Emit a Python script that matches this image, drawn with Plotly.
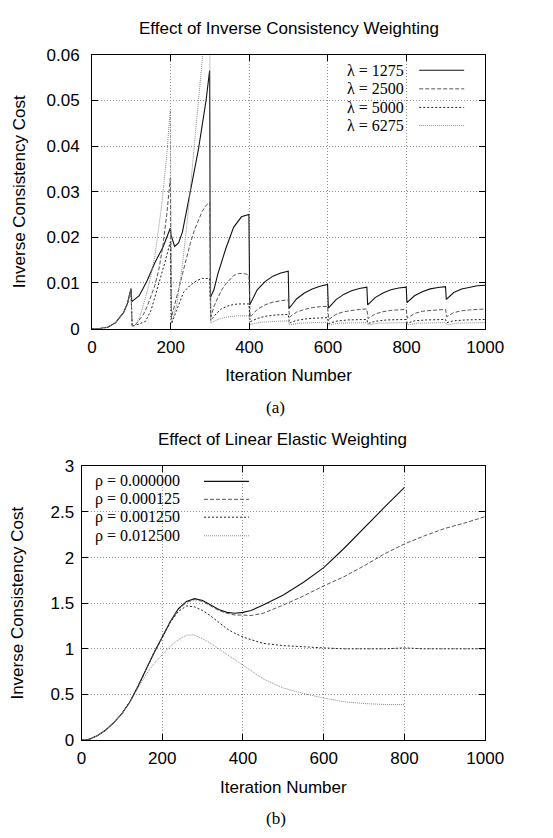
import plotly.graph_objects as go

# ---------------- Data: (a) Effect of Inverse Consistency Weighting ----------------
lam_labels = ["λ = 1275", "λ = 2500", "λ = 5000", "λ = 6275"]

iter_1275 = [0, 20, 40, 60, 80, 90, 99,
             101, 120, 140, 160, 180, 199,
             201, 210, 220, 230, 240, 250, 260, 270, 280, 290, 299,
             301, 310, 320, 340, 360, 380, 399,
             401, 420, 440, 460, 480, 499,
             501, 520, 540, 560, 580, 599,
             601, 620, 640, 660, 680, 699,
             701, 720, 740, 760, 780, 799,
             801, 820, 840, 860, 880, 899,
             901, 920, 940, 960, 980, 1000]
cost_1275 = [0, 0, 0.0003, 0.0013, 0.0035, 0.0055, 0.0088,
             0.0059, 0.0072, 0.0105, 0.0145, 0.0178, 0.022,
             0.0205, 0.018, 0.0188, 0.0212, 0.0255, 0.030, 0.0345, 0.039, 0.0445, 0.050, 0.0566,
             0.0068, 0.0085, 0.012, 0.0175, 0.0222, 0.0245, 0.025,
             0.0052, 0.0085, 0.0103, 0.0115, 0.0122, 0.0126,
             0.0044, 0.0065, 0.0078, 0.0087, 0.0093, 0.0097,
             0.0045, 0.0063, 0.0075, 0.0083, 0.0088, 0.0091,
             0.0052, 0.0068, 0.0078, 0.0085, 0.0089, 0.0091,
             0.0057, 0.0072, 0.0081, 0.0087, 0.0090, 0.0092,
             0.0064, 0.0079, 0.0087, 0.0091, 0.0094, 0.0095]

iter_2500 = [0, 20, 40, 60, 80, 90, 99,
             102, 110, 120, 130, 140, 150, 160, 170, 180, 190, 199,
             202, 210, 220, 230, 240, 250, 260, 270, 280, 290, 299,
             302, 310, 320, 330, 340, 350, 360, 370, 380, 390, 399,
             402, 420, 440, 460, 480, 499,
             502, 520, 540, 560, 580, 599,
             602, 620, 640, 660, 680, 699,
             702, 720, 740, 760, 780, 799,
             802, 820, 840, 860, 880, 899,
             902, 920, 940, 960, 980, 1000]
cost_2500 = [0, 0, 0.0003, 0.0013, 0.0035, 0.0055, 0.0086,
             0.0006, 0.0008, 0.0018, 0.003, 0.0048, 0.007, 0.0095, 0.013, 0.018, 0.025, 0.033,
             0.0025, 0.005, 0.0085, 0.012, 0.0155, 0.0187, 0.0215, 0.0238, 0.0257, 0.027, 0.0277,
             0.0025, 0.0048, 0.0068, 0.0085, 0.0098, 0.0108, 0.0116, 0.012, 0.0121, 0.012, 0.0117,
             0.0025, 0.0042, 0.0052, 0.0058, 0.0061, 0.0063,
             0.0025, 0.0036, 0.0042, 0.0046, 0.0048, 0.0049,
             0.0020, 0.0031, 0.0037, 0.0040, 0.0042, 0.0043,
             0.0022, 0.0032, 0.0037, 0.0040, 0.0041, 0.0042,
             0.0023, 0.0033, 0.0038, 0.0040, 0.0041, 0.0042,
             0.0026, 0.0035, 0.0039, 0.0041, 0.0042, 0.0043]

iter_5000 = [0, 20, 40, 60, 80, 90, 99,
             102, 120, 136, 150, 161, 175, 185, 199,
             202, 215, 233, 250, 266, 280, 299,
             302, 315, 330, 350, 370, 399,
             402, 420, 440, 470, 499,
             502, 520, 550, 599,
             602, 620, 650, 699,
             702, 720, 750, 799,
             802, 820, 850, 899,
             902, 920, 950, 1000]
cost_5000 = [0, 0, 0.0003, 0.0013, 0.0035, 0.0055, 0.0086,
             0.0005, 0.001, 0.0016, 0.004, 0.0073, 0.011, 0.0144, 0.019,
             0.001, 0.004, 0.008, 0.0095, 0.0105, 0.011, 0.011,
             0.0018, 0.0032, 0.0044, 0.0051, 0.0054, 0.0054,
             0.0015, 0.0022, 0.0027, 0.0030, 0.0031,
             0.0012, 0.0018, 0.0022, 0.0024,
             0.0011, 0.0016, 0.0019, 0.0020,
             0.0011, 0.0016, 0.0019, 0.0020,
             0.0012, 0.0017, 0.0019, 0.0020,
             0.0013, 0.0017, 0.0019, 0.0020]

iter_6275 = [0, 20, 40, 60, 80, 90, 99,
             102, 110, 120, 130, 144, 160, 177, 190, 199,
             202, 215, 230, 245, 260, 275, 290, 299,
             302, 320, 340, 370, 399,
             402, 430, 470, 499,
             502, 530, 599,
             602, 630, 699,
             702, 730, 799,
             802, 830, 899,
             902, 930, 1000]
cost_6275 = [0, 0, 0.0003, 0.0013, 0.0035, 0.0055, 0.0086,
             0.0004, 0.0008, 0.0023, 0.005, 0.0094, 0.016, 0.027, 0.038, 0.048,
             0.0012, 0.005, 0.014, 0.026, 0.040, 0.055, 0.068, 0.075,
             0.0012, 0.0020, 0.0025, 0.0028, 0.0028,
             0.0009, 0.0014, 0.0016, 0.0017,
             0.0008, 0.0012, 0.0014,
             0.0008, 0.0012, 0.0013,
             0.0008, 0.0012, 0.0013,
             0.0008, 0.0012, 0.0013,
             0.0008, 0.0012, 0.0013]

# ---------------- Data: (b) Effect of Linear Elastic Weighting ----------------
rho_labels = ["ρ = 0.000000", "ρ = 0.000125", "ρ = 0.001250", "ρ = 0.012500"]

iter_short = [0, 10, 20, 40, 60, 80, 100, 120, 140, 160, 180, 200, 220, 240, 260, 280,
              300, 320, 340, 360, 380, 400, 420, 450, 500, 550, 600, 650, 700, 750, 800]
iter_long = iter_short + [850, 900, 950, 1000]

cost_rho0 = [0, 0, 0.01, 0.05, 0.11, 0.19, 0.29, 0.42, 0.59, 0.78, 0.96, 1.13, 1.30, 1.44, 1.52, 1.55,
             1.53, 1.48, 1.43, 1.40, 1.39, 1.40, 1.42, 1.48, 1.59, 1.73, 1.89, 2.10, 2.33, 2.55, 2.77]
cost_rho1 = [0, 0, 0.01, 0.05, 0.11, 0.19, 0.29, 0.42, 0.59, 0.78, 0.96, 1.13, 1.30, 1.43, 1.51, 1.54,
             1.52, 1.47, 1.42, 1.39, 1.37, 1.37, 1.365, 1.39, 1.48, 1.58, 1.69, 1.79, 1.91, 2.04, 2.15,
             2.24, 2.32, 2.38, 2.45]
cost_rho2 = [0, 0, 0.01, 0.05, 0.11, 0.19, 0.29, 0.42, 0.59, 0.78, 0.96, 1.12, 1.29, 1.41, 1.47, 1.46,
             1.42, 1.36, 1.29, 1.22, 1.17, 1.13, 1.10, 1.06, 1.035, 1.02, 1.01, 1.0, 1.0, 1.0, 1.01,
             1.0, 1.0, 1.0, 1.0]
cost_rho3 = [0, 0, 0.01, 0.05, 0.11, 0.19, 0.29, 0.41, 0.57, 0.72, 0.84, 0.93, 1.03, 1.10, 1.15, 1.15,
             1.11, 1.06, 1.00, 0.94, 0.88, 0.82, 0.76, 0.67, 0.57, 0.51, 0.46, 0.42, 0.40, 0.39, 0.39]

# ---------------- Styles ----------------
W, H = 553, 838
styles = [
    dict(color="#111111", width=1.1, dash="solid"),
    dict(color="#555555", width=1.0, dash="4px,2px"),
    dict(color="#222222", width=1.0, dash="2px,2px"),
    dict(color="#8a8a8a", width=1.0, dash="1px,1px"),
]
SANS = "Liberation Sans, Arial, Helvetica, sans-serif"
SERIF = "Liberation Serif, Times New Roman, serif"

fig = go.Figure()
top_series = [(iter_1275, cost_1275), (iter_2500, cost_2500), (iter_5000, cost_5000), (iter_6275, cost_6275)]
for (xs, ys), name, st in zip(top_series, lam_labels, styles):
    fig.add_trace(go.Scatter(x=xs, y=ys, mode="lines", name=name, line=st,
                             xaxis="x", yaxis="y", showlegend=False))
bot_series = [(iter_short, cost_rho0), (iter_long, cost_rho1), (iter_long, cost_rho2), (iter_short, cost_rho3)]
for (xs, ys), name, st in zip(bot_series, rho_labels, styles):
    fig.add_trace(go.Scatter(x=xs, y=ys, mode="lines", name=name, line=st,
                             xaxis="x2", yaxis="y2", showlegend=False))


def px_x(p):
    return p / W


def px_y(p):
    return 1 - p / H


axis_common = dict(
    showline=True, linecolor="black", linewidth=1, mirror="ticks",
    ticks="inside", ticklen=6, tickcolor="black", tickwidth=1,
    showgrid=True, gridcolor="#8c8c8c", griddash="1px,2px", gridwidth=1,
    zeroline=False, tickfont=dict(family=SANS, size=17, color="black"),
)
title_font = dict(family=SANS, size=17, color="black")

fig.update_layout(
    width=W, height=H, autosize=False,
    margin=dict(l=0, r=0, t=0, b=0),
    paper_bgcolor="white", plot_bgcolor="white",
    font=dict(family=SANS, size=17, color="black"),
    xaxis=dict(domain=[px_x(91), px_x(502)], anchor="y", range=[0, 1000],
               tickvals=[0, 200, 400, 600, 800, 1000], ticklabelstandoff=3,
               title=dict(text="Iteration Number", standoff=13, font=title_font),
               **axis_common),
    yaxis=dict(domain=[px_y(327), px_y(47)], anchor="x", range=[0, 0.06],
               tickvals=[0, 0.01, 0.02, 0.03, 0.04, 0.05, 0.06],
               ticktext=["0", "0.01", "0.02", "0.03", "0.04", "0.05", "0.06"],
               ticklabelstandoff=8,
               title=dict(text="Inverse Consistency Cost", standoff=16, font=title_font),
               **axis_common),
    xaxis2=dict(domain=[px_x(80), px_x(502)], anchor="y2", range=[0, 1000],
                tickvals=[0, 200, 400, 600, 800, 1000], ticklabelstandoff=3,
                title=dict(text="Iteration Number", standoff=13, font=title_font),
                **axis_common),
    yaxis2=dict(domain=[px_y(748), px_y(468)], anchor="x2", range=[0, 3],
                tickvals=[0, 0.5, 1, 1.5, 2, 2.5, 3],
                ticktext=["0", "0.5", "1", "1.5", "2", "2.5", "3"],
                ticklabelstandoff=3,
                title=dict(text="Inverse Consistency Cost", standoff=22, font=title_font),
                **axis_common),
)

annotations = [
    dict(text="Effect of Inverse Consistency Weighting", x=px_x(297), y=px_y(20),
         font=dict(family=SANS, size=17)),
    dict(text="Effect of Linear Elastic Weighting", x=px_x(290), y=px_y(440),
         font=dict(family=SANS, size=17)),
    dict(text="(a)", x=px_x(283), y=px_y(408), font=dict(family=SERIF, size=17)),
    dict(text="(b)", x=px_x(283), y=px_y(828), font=dict(family=SERIF, size=17)),
]
for a in annotations:
    a.update(xref="paper", yref="paper", showarrow=False, xanchor="center", yanchor="middle")

shapes = []
# custom gnuplot-style legends: label on the left, line sample on the right
legend_specs = [
    (lam_labels, 419, 433, 480, [62.7, 81.7, 100.7, 119.3]),
    (rho_labels, 185, 208, 255, [483.3, 501.7, 520, 539]),
]
for labels, text_right, l0, l1, rows in legend_specs:
    for lab, st, ry in zip(labels, styles, rows):
        annotations.append(dict(text=lab, x=px_x(text_right), y=px_y(ry), xref="paper", yref="paper",
                                showarrow=False, xanchor="right", yanchor="middle",
                                font=dict(family=SERIF, size=16, color="black")))
        shapes.append(dict(type="line", xref="paper", yref="paper",
                           x0=px_x(l0), x1=px_x(l1), y0=px_y(ry), y1=px_y(ry),
                           line=dict(color=st["color"], width=st["width"], dash=st["dash"])))

fig.update_layout(annotations=annotations, shapes=shapes)
fig.write_html("out.html", config={"displayModeBar": False},
               post_script="document.body.style.margin='0px';")
